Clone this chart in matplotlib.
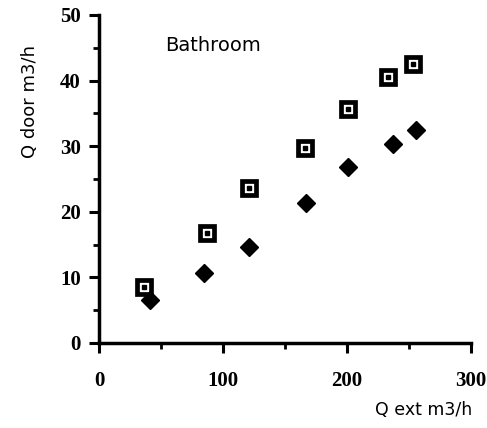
import matplotlib
matplotlib.use("Agg")
import matplotlib.pyplot as plt
from matplotlib.ticker import MultipleLocator

# Data
sq_x = [36.5, 86.9, 121.2, 166.1, 201.0, 233.3, 253.0]
sq_y = [8.6, 16.7, 23.6, 29.7, 35.7, 40.6, 42.6]
dm_x = [41.1, 84.9, 121.2, 166.7, 201.0, 237.3, 255.4]
dm_y = [6.6, 10.6, 14.7, 21.4, 26.9, 30.4, 32.5]
x_ticks = [0, 100, 200, 300]
y_ticks = [0, 10, 20, 30, 40, 50]

fig = plt.figure(figsize=(4.87, 4.28), dpi=100)
ax = fig.add_axes([0.2033, 0.1986, 0.967 - 0.2033, 0.965 - 0.1986])

ax.plot(sq_x, sq_y, linestyle='none', marker='s', markersize=10,
        markerfacecolor='white', markeredgecolor='black', markeredgewidth=3.4, clip_on=False)
ax.plot(sq_x, sq_y, linestyle='none', marker='s', markersize=2.2,
        markerfacecolor='black', markeredgecolor='black', clip_on=False)
ax.plot(dm_x, dm_y, linestyle='none', marker='D', markersize=9.5,
        markerfacecolor='black', markeredgecolor='black', clip_on=False)

ax.set_xlim(0, 300)
ax.set_ylim(0, 50)
ax.set_xticks(x_ticks)
ax.set_yticks(y_ticks)
ax.xaxis.set_minor_locator(MultipleLocator(50))
ax.yaxis.set_minor_locator(MultipleLocator(5))

for s in ['top', 'right']:
    ax.spines[s].set_visible(False)
for s in ['left', 'bottom']:
    ax.spines[s].set_linewidth(2.5)

ax.tick_params(which='major', length=7, width=2.2, direction='out')
ax.tick_params(which='minor', length=4, width=2.0, direction='out')
ax.tick_params(axis='both', labelsize=15)
for lab in ax.get_xticklabels() + ax.get_yticklabels():
    lab.set_fontfamily('Liberation Serif')
    lab.set_fontweight('bold')
ax.tick_params(axis='x', pad=13)
ax.tick_params(axis='y', pad=6)

ax.text(53, 45.4, 'Bathroom', fontsize=14, family='DejaVu Sans', va='center', ha='left')

fig.text(472 / 487, 1 - 410 / 428, 'Q ext m3/h', fontsize=12.5, family='DejaVu Sans',
         ha='right', va='center')
fig.text(30 / 487, 1 - 102 / 428, 'Q door m3/h', fontsize=13, family='DejaVu Sans',
         ha='center', va='center', rotation=90)

fig.savefig('out.png', dpi=100)
